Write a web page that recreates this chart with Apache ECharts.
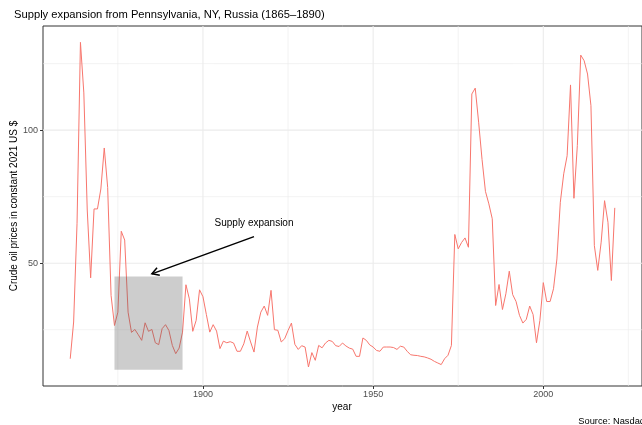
<!DOCTYPE html>
<html>
<head>
<meta charset="utf-8">
<script src="https://cdn.jsdelivr.net/npm/echarts@6/dist/echarts.min.js"></script>
<style>
  html, body { margin: 0; padding: 0; background: #fff; }
  #oilChart { width: 642px; height: 425px; }
</style>
</head>
<body>
<div id="oilChart"></div>
<script>
// crude oil price, constant 2021 US $, one value per year from firstYear
const firstYear = 1861;
const prices = [
  14.1, 27.9, 65, 133, 114, 70, 44.5, 70.4, 70.4, 77.9,            // 1861-1870
  93.3, 78.5, 37.9, 26.6, 31.6, 62, 58.7, 31.6, 24, 25.1,           // 1871-1880
  23.1, 21.0, 27.6, 24.4, 25.1, 20.1, 19.4, 25.4, 26.9, 24.7,       // 1881-1890
  19.1, 16.0, 18.1, 24.1, 41.9, 36.6, 24.4, 28.5, 40.0, 37.4,       // 1891-1900
  30.7, 24.1, 26.9, 24.5, 17.9, 20.7, 20.1, 20.5, 20.0, 16.9,       // 1901-1910
  16.9, 19.7, 24.5, 20.4, 16.6, 26.0, 31.6, 33.9, 30.4, 39.8,       // 1911-1920
  25.0, 24.8, 20.4, 21.6, 24.7, 27.5, 19.5, 17.6, 19.0, 18.5,       // 1921-1930
  11.0, 16.4, 13.5, 19.1, 18.2, 20.0, 21.0, 20.6, 19.0, 18.7,       // 1931-1940
  20.0, 18.9, 18.1, 17.7, 15.0, 15.0, 21.9, 21.0, 19.3, 18.5,       // 1941-1950
  17.2, 16.9, 18.5, 18.5, 18.5, 18.3, 17.6, 18.8, 18.5, 16.9,       // 1951-1960
  15.6, 15.4, 15.3, 15.0, 14.8, 14.4, 13.9, 13.1, 12.5, 11.9,       // 1961-1970
  14.1, 15.4, 19.1, 60.8, 55.4, 57.8, 59.5, 56.0, 113.6, 115.8,     // 1971-1980
  103, 89, 77, 72.3, 66.7, 34.1, 42.0, 32.6, 38.5, 47.0,            // 1981-1990
  38.2, 35.6, 30.4, 27.5, 28.9, 33.9, 30.7, 20.1, 28.5, 42.7,       // 1991-2000
  35.6, 35.6, 40.4, 51.6, 72.9, 83.6, 90.4, 117.0, 74.4, 94.2,      // 2001-2010
  128.2, 126.1, 121.1, 109.2, 56.6, 47.3, 57.9, 73.5, 65.4, 43.5,   // 2011-2020
  70.8                                                              // 2021
];

const xTicks = [1900, 1950, 2000];
const xMinor = [1875, 1925, 1975, 2025];
const yTicks = [50, 100];
const yMinor = [25, 75, 125];

// annotation: shaded box, arrow, label
const boxYears = [1874, 1894];
const boxPrices = [10, 45];
const arrowFrom = [1915, 60];
const arrowTo = [1885, 46];
const labelPos = [1915, 65];
const labelText = 'Supply expansion';

const font = 'Liberation Sans';

let chart = echarts.init(document.getElementById('oilChart'));

let points = prices.map((p, i) => [firstYear + i, p]);

// panel grid lines (theme_bw look), drawn under everything else
function renderGrid(params, api) {
  const cs = params.coordSys;
  const kids = [];
  const vline = (v, w) => {
    const px = api.coord([v, yTicks[0]])[0];
    kids.push({ type: 'line', shape: { x1: px, y1: cs.y, x2: px, y2: cs.y + cs.height }, style: { stroke: '#EBEBEB', lineWidth: w } });
  };
  const hline = (v, w) => {
    const py = api.coord([xTicks[0], v])[1];
    kids.push({ type: 'line', shape: { x1: cs.x, y1: py, x2: cs.x + cs.width, y2: py }, style: { stroke: '#EBEBEB', lineWidth: w } });
  };
  xMinor.forEach(v => vline(v, 0.6));
  yMinor.forEach(v => hline(v, 0.6));
  xTicks.forEach(v => vline(v, 1.1));
  yTicks.forEach(v => hline(v, 1.1));
  return { type: 'group', children: kids };
}

let option = {
  animation: false,
  grid: {
    left: 43, right: 0, top: 26, bottom: 39,
    show: true, borderColor: '#333333', borderWidth: 1, backgroundColor: '#fff'
  },
  xAxis: {
    type: 'value', min: 1853, max: 2029,
    splitLine: { show: false },
    axisLine: { show: false },
    axisTick: { show: true, length: 3, customValues: xTicks, lineStyle: { color: '#333333' } },
    axisLabel: { customValues: xTicks, formatter: v => String(v), color: '#4D4D4D', fontFamily: font, fontSize: 9, margin: 4 }
  },
  yAxis: {
    type: 'value', min: 3.85, max: 139.15,
    splitLine: { show: false },
    axisLine: { show: false },
    axisTick: { show: true, length: 3, customValues: yTicks, lineStyle: { color: '#333333' } },
    axisLabel: { customValues: yTicks, formatter: v => String(v), color: '#4D4D4D', fontFamily: font, fontSize: 9, margin: 5 }
  },
  graphic: [
    { type: 'text', left: 14, top: 9, style: { text: 'Supply expansion from Pennsylvania, NY, Russia (1865\u20131890)', font: '11.2px ' + font, fill: '#000' } },
    { type: 'text', x: 342, y: 407, style: { text: 'year', font: '10px ' + font, fill: '#000', align: 'center', verticalAlign: 'middle' } },
    { type: 'text', x: 14, y: 206, rotation: Math.PI / 2, style: { text: 'Crude oil prices in constant 2021 US $', font: '10px ' + font, fill: '#000', align: 'center', verticalAlign: 'middle' } },
    { type: 'text', x: 645, y: 421, style: { text: 'Source: Nasdaq', font: '9.3px ' + font, fill: '#000', align: 'right', verticalAlign: 'middle' } }
  ],
  series: [
    {
      type: 'custom', z: 1, silent: true,
      data: [[xTicks[0], yTicks[0]]],
      renderItem: renderGrid
    },
    {
      type: 'line', data: points, showSymbol: false, z: 3,
      lineStyle: { color: '#F8766D', width: 1 }
    },
    {
      type: 'custom', z: 4, silent: true,
      data: [[boxYears[0], boxPrices[0], boxYears[1], boxPrices[1]]],
      encode: { x: [0, 2], y: [1, 3] },
      renderItem(params, api) {
        let a = api.coord([api.value(0), api.value(1)]);
        let b = api.coord([api.value(2), api.value(3)]);
        return {
          type: 'rect',
          shape: { x: a[0], y: b[1], width: b[0] - a[0], height: a[1] - b[1] },
          style: { fill: 'rgba(89,89,89,0.3)' }
        };
      }
    },
    {
      type: 'custom', z: 5, silent: true,
      data: [[arrowFrom[0], arrowFrom[1], arrowTo[0], arrowTo[1]]],
      encode: { x: [0, 2], y: [1, 3] },
      renderItem(params, api) {
        let s = api.coord([api.value(0), api.value(1)]);
        let e = api.coord([api.value(2), api.value(3)]);
        let ang = Math.atan2(s[1] - e[1], s[0] - e[0]);
        let len = 8, spread = Math.PI / 6;
        let h1 = [e[0] + len * Math.cos(ang + spread), e[1] + len * Math.sin(ang + spread)];
        let h2 = [e[0] + len * Math.cos(ang - spread), e[1] + len * Math.sin(ang - spread)];
        let st = { stroke: '#000', lineWidth: 1.5, fill: null };
        let lp = api.coord(labelPos);
        return {
          type: 'group',
          children: [
            { type: 'line', shape: { x1: s[0], y1: s[1], x2: e[0], y2: e[1] }, style: st },
            { type: 'polyline', shape: { points: [h1, e, h2] }, style: st },
            { type: 'text', x: lp[0], y: lp[1], style: { text: labelText, font: '10px ' + font, fill: '#000', align: 'center', verticalAlign: 'middle' } }
          ]
        };
      }
    }
  ]
};

chart.setOption(option);
</script>
</body>
</html>
